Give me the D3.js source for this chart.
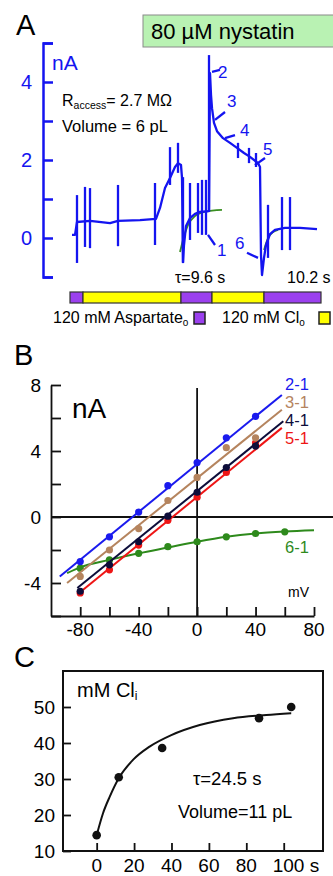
<!DOCTYPE html>
<html><head><meta charset="utf-8">
<script src="https://cdn.jsdelivr.net/npm/d3@7/dist/d3.min.js"></script>
<style>
html,body{margin:0;padding:0;background:#fff;}
svg{display:block;font-family:"Liberation Sans",Arial,Helvetica,sans-serif;}
</style></head>
<body>
<svg id="chart" width="333" height="876"></svg>
<script>
// ---------- Panel A data (time in s, current in nA) ----------
const traceT = [0,1.5,2.5,9,19,23,34,42,44,46.5,49,51.5,53,54.5,55,55.5,56,57,59,61.5,64,68.5,69,69.5,70,71,72.5,75.5,79,82.5,86,89,93,94,94.5,95,96,97,99,101.5,106.5,114,122.5];
const traceI = [0.08,0.08,0.41,0.44,0.38,0.44,0.46,0.49,0.77,1.28,1.54,1.82,1.92,1.87,1.54,-0.62,-0.18,0.31,0.51,0.62,0.67,0.69,4.23,3.67,3.33,2.95,2.74,2.56,2.44,2.31,2.18,2.08,1.92,1.82,-0.44,-0.95,-0.51,-0.18,0.10,0.21,0.26,0.26,0.23];
const spikeT = [2.5,6.5,9,23,41.5,49,53,55.5,59,63,65,67,68.5,83,88.5,92,98,105,109];
const spikeTop = [1.10,1.31,1.28,1.36,1.41,2.33,2.44,1.56,1.41,1.41,1.49,1.49,4.69,2.44,2.31,2.18,0.85,1.05,1.05];
const spikeBottom = [-0.64,-0.23,-0.26,-0.21,-0.18,1.36,1.67,-0.64,-0.05,0.13,0.08,0.08,0.67,2.05,1.92,1.82,-0.51,-0.31,-0.31];
const fit1T = [54,55.5,58,61.5,66.5,75];
const fit1I = [-0.36,-0.05,0.33,0.56,0.67,0.72];
const fit2T = [96,98,100.5,103];
const fit2I = [-0.31,0,0.15,0.21];
const markerLabels = ["2","3","4","5","1","6"];
const markerT1 = [70,71.5,76.5,91.5,68,87.5];
const markerI1 = [4.26,3.03,2.56,1.87,0.08,-0.38];
const markerT2 = [74,76.5,81.5,96.5,71.5,93];
const markerI2 = [4.31,3.23,2.64,2.05,-0.18,-0.51];
const labelT = [73,77.5,84,95.5,72.5,81.5];
const labelI = [4.26,3.51,2.78,2.28,-0.30,-0.13];
const axisATicks = [-1,0,1,2,3,4,5];
const axisALabels = [0,2,4];
const barStart = [-1,5.5,54.5,70,96];
const barEnd = [5.5,54.5,70,96,124.5];
const barSolution = ["asp","cl","asp","cl","asp"];

// ---------- Panel B data (mV, nA) ----------
const ivVoltage = [-80,-60,-40,-20,0,20,40];
const iv21 = [-2.7,-1.2,0.3,1.9,3.3,4.8,6.1];
const iv31 = [-3.6,-2.0,-0.7,1.0,2.4,4.2,4.8];
const iv41 = [-4.5,-2.9,-1.5,0.05,1.5,3.0,4.3];
const iv51 = [-4.6,-3.2,-1.7,-0.2,1.2,2.7,4.5];
const iv61Voltage = [-80,-60,-40,-20,0,20,40,60];
const iv61 = [-3.1,-2.6,-2.2,-1.8,-1.5,-1.2,-1.0,-0.9];
const fit21V = [-94,58], fit21I = [-3.6,7.4];
const fit31V = [-89,58], fit31I = [-4.0,6.5];
const fit41V = [-82,59], fit41I = [-4.3,5.8];
const fit51V = [-82,58], fit51I = [-4.7,5.4];
const fit61V = [-89,-80,-60,-40,-20,0,20,40,60,80];
const fit61I = [-3.4,-3.05,-2.6,-2.2,-1.85,-1.5,-1.2,-1.0,-0.88,-0.8];
const bYTicks = [-6,-4,-2,0,2,4,6,8];
const bYLabels = [-4,0,4,8];
const bXTicks = [-80,-60,-40,-20,0,20,40,60,80];
const bXLabels = [-80,-40,0,40,80];

// ---------- Panel C data (s, mM Cl_i) ----------
const clTime = [0,11.8,35,86.8,104];
const clConc = [14.4,30.5,38.6,46.9,50.0];
const clFitTime = [0,3.4,7.0,11.8,19.4,28.3,39.9,55.1,72.9,90.7,104];
const clFitConc = [14.4,20.5,25.1,30.2,35.3,39.0,42.2,45.0,46.9,47.8,48.3];
const cYTicks = [10,20,30,40,50];
const cXTicks = [0,20,40,60,80,100];

const svg = d3.select("#chart");
const BLUE = "#1414f0";

// ================= Panel A =================
svg.append("text").attr("x",16).attr("y",35).attr("font-size",29).text("A");
svg.append("rect").attr("x",143).attr("y",15).attr("width",195).attr("height",32)
  .attr("fill","#b9f2b3").attr("stroke","#8a8a8a").attr("stroke-width",1);
svg.append("text").attr("x",151).attr("y",39).attr("font-size",22).text("80 µM nystatin");

const xA = d3.scaleLinear().domain([0,123]).range([72,318]);
const yA = d3.scaleLinear().domain([-1,5]).range([277,43]);

const axA = svg.append("g").attr("transform","translate(43,0)")
  .call(d3.axisRight(yA).tickValues(axisATicks).tickSize(10).tickSizeOuter(10).tickFormat(""));
axA.selectAll("path,line").attr("stroke",BLUE).attr("stroke-width",2.5);
svg.append("g").selectAll("text").data(axisALabels).join("text")
  .attr("x",32).attr("y",d=>yA(d)+7).attr("text-anchor","end")
  .attr("font-size",20).attr("fill",BLUE).text(d=>d);
svg.append("text").attr("x",52).attr("y",70).attr("font-size",21).attr("fill",BLUE).text("nA");

const rt = svg.append("text").attr("x",62).attr("y",106).attr("font-size",16);
rt.append("tspan").text("R");
rt.append("tspan").attr("font-size",10.5).attr("dy",3).text("access");
rt.append("tspan").attr("dy",-3).text("= 2.7 MΩ");
svg.append("text").attr("x",62).attr("y",132).attr("font-size",16.5).text("Volume = 6 pL");

const lineA = d3.line().x(d=>xA(d[0])).y(d=>yA(d[1]));
svg.append("path").datum(d3.zip(fit1T,fit1I)).attr("d",lineA.curve(d3.curveMonotoneX))
  .attr("fill","none").attr("stroke","#3a8f22").attr("stroke-width",1.8);
svg.append("path").datum(d3.zip(fit2T,fit2I)).attr("d",lineA.curve(d3.curveMonotoneX))
  .attr("fill","none").attr("stroke","#3a8f22").attr("stroke-width",1.8);
svg.append("path").datum(d3.zip(traceT,traceI)).attr("d",lineA.curve(d3.curveLinear))
  .attr("fill","none").attr("stroke",BLUE).attr("stroke-width",2.3).attr("stroke-linejoin","round");
svg.append("g").selectAll("line").data(spikeT).join("line")
  .attr("x1",d=>xA(d)).attr("x2",d=>xA(d))
  .attr("y1",(d,i)=>yA(spikeTop[i])).attr("y2",(d,i)=>yA(spikeBottom[i]))
  .attr("stroke",BLUE).attr("stroke-width",2.3);
svg.append("g").selectAll("line").data(markerLabels).join("line")
  .attr("x1",(d,i)=>xA(markerT1[i])).attr("y1",(d,i)=>yA(markerI1[i]))
  .attr("x2",(d,i)=>xA(markerT2[i])).attr("y2",(d,i)=>yA(markerI2[i]))
  .attr("stroke",BLUE).attr("stroke-width",2.3);
svg.append("g").selectAll("text").data(markerLabels).join("text")
  .attr("x",(d,i)=>xA(labelT[i])).attr("y",(d,i)=>yA(labelI[i])+6)
  .attr("font-size",17).attr("fill",BLUE).text(d=>d);

svg.append("text").attr("x",175).attr("y",283).attr("font-size",16).text("τ=9.6 s");
svg.append("text").attr("x",287).attr("y",283).attr("font-size",16).text("10.2 s");

const solColor = {asp:"#9b40ee", cl:"#ffff00"};
svg.append("g").selectAll("rect").data(barStart).join("rect")
  .attr("x",d=>xA(d)).attr("y",292).attr("width",(d,i)=>xA(barEnd[i])-xA(d)).attr("height",11)
  .attr("fill",(d,i)=>solColor[barSolution[i]]).attr("stroke","#333").attr("stroke-width",1.2);

const l1 = svg.append("text").attr("x",53).attr("y",323).attr("font-size",16);
l1.append("tspan").text("120 mM Aspartate");
l1.append("tspan").attr("font-size",10).attr("dy",3).text("o");
svg.append("rect").attr("x",194).attr("y",312).attr("width",11).attr("height",12)
  .attr("fill",solColor.asp).attr("stroke","#222").attr("stroke-width",1.5);
const l2 = svg.append("text").attr("x",222).attr("y",323).attr("font-size",16);
l2.append("tspan").text("120 mM Cl");
l2.append("tspan").attr("font-size",10).attr("dy",3).text("o");
svg.append("rect").attr("x",319).attr("y",312).attr("width",11).attr("height",12)
  .attr("fill",solColor.cl).attr("stroke","#222").attr("stroke-width",1.5);

// ================= Panel B =================
svg.append("text").attr("x",14).attr("y",365).attr("font-size",29).text("B");
const xB = d3.scaleLinear().domain([-100,80]).range([51,314]);
const yB = d3.scaleLinear().domain([-6,8]).range([616,385]);

const axBy = svg.append("g").attr("transform","translate(51,0)")
  .call(d3.axisRight(yB).tickValues(bYTicks).tickSize(10).tickSizeOuter(0).tickFormat(""));
const axBx = svg.append("g").attr("transform","translate(0,616)")
  .call(d3.axisTop(xB).tickValues(bXTicks).tickSize(9).tickSizeOuter(0).tickFormat(""));
[axBy,axBx].forEach(g=>g.selectAll("path,line").attr("stroke","#111").attr("stroke-width",1.8));
svg.append("g").selectAll("text").data(bYLabels).join("text")
  .attr("x",41).attr("y",d=>yB(d)+7).attr("text-anchor","end").attr("font-size",19).text(d=>d);
svg.append("g").selectAll("text").data(bXLabels).join("text")
  .attr("x",d=>xB(d)).attr("y",636).attr("text-anchor","middle").attr("font-size",19).text(d=>d);
svg.append("line").attr("x1",51).attr("x2",333).attr("y1",yB(0)).attr("y2",yB(0))
  .attr("stroke","#111").attr("stroke-width",1.8);
svg.append("line").attr("x1",xB(0)).attr("x2",xB(0)).attr("y1",388).attr("y2",616)
  .attr("stroke","#111").attr("stroke-width",1.8);
svg.append("text").attr("x",72).attr("y",418).attr("font-size",28).text("nA");
svg.append("text").attr("x",288).attr("y",597).attr("font-size",14).text("mV");

const lineB = d3.line().x(d=>xB(d[0])).y(d=>yB(d[1]));
const seriesB = [
  {name:"2-1", color:"#1a1aee", fv:fit21V, fi:fit21I, v:ivVoltage, i:iv21, ly:390},
  {name:"3-1", color:"#b5845e", fv:fit31V, fi:fit31I, v:ivVoltage, i:iv31, ly:408},
  {name:"4-1", color:"#0d0d3a", fv:fit41V, fi:fit41I, v:ivVoltage, i:iv41, ly:426},
  {name:"5-1", color:"#ee1515", fv:fit51V, fi:fit51I, v:ivVoltage, i:iv51, ly:444},
  {name:"6-1", color:"#2e8a1c", fv:fit61V, fi:fit61I, v:iv61Voltage, i:iv61, ly:553}
];
seriesB.slice().reverse().forEach(s=>{
  svg.append("path").datum(d3.zip(s.fv,s.fi))
    .attr("d",lineB.curve(s.name==="6-1"?d3.curveMonotoneX:d3.curveLinear))
    .attr("fill","none").attr("stroke",s.color).attr("stroke-width",2);
  svg.append("g").selectAll("circle").data(d3.zip(s.v,s.i)).join("circle")
    .attr("cx",d=>xB(d[0])).attr("cy",d=>yB(d[1])).attr("r",3.6).attr("fill",s.color);
});
seriesB.forEach(s=>{
  svg.append("text").attr("x",285).attr("y",s.ly).attr("font-size",16.5).attr("fill",s.color).text(s.name);
});

// ================= Panel C =================
svg.append("text").attr("x",14).attr("y",667).attr("font-size",29).text("C");
const xC = d3.scaleLinear().domain([-18,121]).range([63,323]);
const yC = d3.scaleLinear().domain([10,60]).range([851,671]);
svg.append("rect").attr("x",63).attr("y",671).attr("width",260).attr("height",180)
  .attr("fill","none").attr("stroke","#111").attr("stroke-width",2);
const axCy = svg.append("g").attr("transform","translate(63,0)")
  .call(d3.axisRight(yC).tickValues(cYTicks).tickSize(8).tickSizeOuter(0).tickFormat(""));
const axCx = svg.append("g").attr("transform","translate(0,851)")
  .call(d3.axisTop(xC).tickValues(cXTicks).tickSize(8).tickSizeOuter(0).tickFormat(""));
[axCy,axCx].forEach(g=>{g.select("path").remove(); g.selectAll("line").attr("stroke","#111").attr("stroke-width",1.8);});
svg.append("g").selectAll("text").data(cYTicks).join("text")
  .attr("x",55).attr("y",d=>yC(d)+7).attr("text-anchor","end").attr("font-size",19).text(d=>d);
svg.append("g").selectAll("text").data(cXTicks).join("text")
  .attr("x",d=>d===100? xC(d)-11 : xC(d)).attr("y",872)
  .attr("text-anchor",d=>d===100?"start":"middle").attr("font-size",19)
  .text(d=>d===100?"100 s":d);
const ct = svg.append("text").attr("x",77).attr("y",697).attr("font-size",20);
ct.append("tspan").text("mM Cl");
ct.append("tspan").attr("font-size",12).attr("dy",3).text("i");
svg.append("text").attr("x",193).attr("y",785).attr("font-size",18.5).text("τ=24.5 s");
svg.append("text").attr("x",178).attr("y",818).attr("font-size",18).text("Volume=11 pL");

const lineC = d3.line().x(d=>xC(d[0])).y(d=>yC(d[1])).curve(d3.curveMonotoneX);
svg.append("path").datum(d3.zip(clFitTime,clFitConc)).attr("d",lineC)
  .attr("fill","none").attr("stroke","#111").attr("stroke-width",2);
svg.append("g").selectAll("circle").data(d3.zip(clTime,clConc)).join("circle")
  .attr("cx",d=>xC(d[0])).attr("cy",d=>yC(d[1])).attr("r",4.3).attr("fill","#111");
</script>
</body></html>
